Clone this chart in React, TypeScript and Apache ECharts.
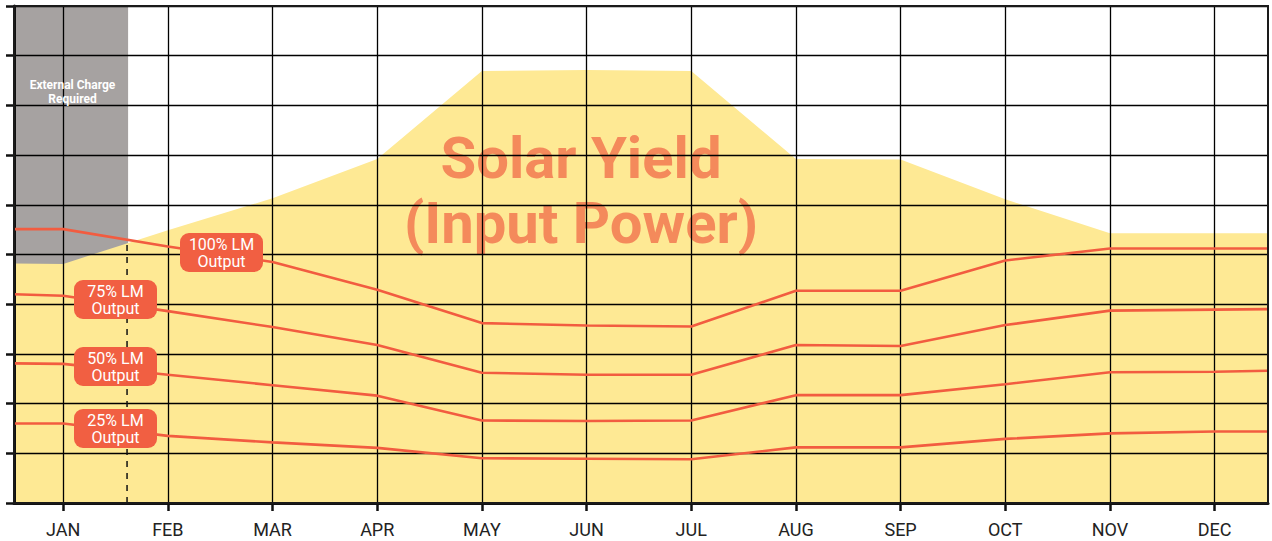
import React, { useEffect, useRef } from "react";
import * as echarts from "echarts";

// ---- Data ----
const MONTHS = ["JAN", "FEB", "MAR", "APR", "MAY", "JUN", "JUL", "AUG", "SEP", "OCT", "NOV", "DEC"];
const X_MIN = -0.47;
const X_MAX = 11.51;

// Solar yield (input power), % of axis
const solarYield = [48.1, 54.9, 61.3, 69.2, 86.9, 87.1, 86.9, 69.2, 69.1, 61.1, 54.3, 54.3];
const solarEdges = [48.2, 54.3];

// LM output lines
const lm100 = [55.1, 51.6, 48.5, 42.9, 36.2, 35.7, 35.5, 42.7, 42.7, 48.8, 51.2, 51.2];
const lm100Edges = [55.1, 51.2];
const lm75 = [41.7, 38.6, 35.4, 31.8, 26.2, 25.8, 25.8, 31.8, 31.6, 35.8, 38.7, 38.9];
const lm75Edges = [42.0, 39.0];
const lm50 = [28.0, 25.8, 23.7, 21.6, 16.6, 16.5, 16.6, 21.7, 21.7, 23.9, 26.3, 26.4];
const lm50Edges = [28.1, 26.6];
const lm25 = [16.0, 13.5, 12.2, 11.1, 9.0, 8.9, 8.8, 11.2, 11.2, 12.9, 14.0, 14.4];
const lm25Edges = [16.0, 14.4];

// External charge region / cutoff
const externalChargeEnd = 0.62;
const cutoffX = 0.61;
const cutoffTop = 52.3;

// ---- Styling / layout ----
const YELLOW = "#fee994";
const GRAY = "#a6a2a1";
const RED = "#f25c40";
const BOX = "#f15f42";
const SOLAR_TEXT = "#f48a5b";

const LABEL_BOXES = [
  { lines: ["100% LM", "Output"], x: 180, y: 233 },
  { lines: ["75% LM", "Output"], x: 74, y: 280 },
  { lines: ["50% LM", "Output"], x: 74, y: 347 },
  { lines: ["25% LM", "Output"], x: 74, y: 409 },
];

function withEdges(values: number[], edges: number[]) {
  return [[X_MIN, edges[0]], ...values.map((v, i) => [i, v]), [X_MAX, edges[1]]];
}

export default function App() {
  const ref = useRef<HTMLDivElement>(null);

  useEffect(() => {
    if (!ref.current) return;
    const chart = echarts.init(ref.current, undefined, { renderer: "svg" });

    const lineSeries = (name: string, vals: number[], edges: number[]) => ({
      name,
      type: "line",
      data: withEdges(vals, edges),
      symbol: "none",
      showSymbol: false,
      silent: true,
      z: 5,
      lineStyle: { color: RED, width: 2.6 },
    });

    const graphics: any[] = [
      {
        type: "text",
        z: 3,
        style: {
          text: "Solar Yield",
          x: 581,
          y: 158,
          align: "center",
          verticalAlign: "middle",
          fill: SOLAR_TEXT,
          font: "bold 58px Roboto",
        },
      },
      {
        type: "text",
        z: 3,
        style: {
          text: "(Input Power)",
          x: 581,
          y: 223,
          align: "center",
          verticalAlign: "middle",
          fill: SOLAR_TEXT,
          font: "bold 58px Roboto",
        },
      },
      {
        type: "text",
        z: 7,
        style: {
          text: "External Charge",
          x: 72.5,
          y: 85,
          align: "center",
          verticalAlign: "middle",
          fill: "#ffffff",
          font: "bold 12px Roboto",
        },
      },
      {
        type: "text",
        z: 7,
        style: {
          text: "Required",
          x: 72.5,
          y: 98.5,
          align: "center",
          verticalAlign: "middle",
          fill: "#ffffff",
          font: "bold 12px Roboto",
        },
      },
    ];

    LABEL_BOXES.forEach((b) => {
      graphics.push({
        type: "rect",
        z: 8,
        shape: { x: b.x, y: b.y, width: 83, height: 39, r: 9 },
        style: { fill: BOX },
      });
      b.lines.forEach((t, i) => {
        graphics.push({
          type: "text",
          z: 9,
          style: {
            text: t,
            x: b.x + 41.5,
            y: b.y + 11 + i * 17.6,
            align: "center",
            verticalAlign: "middle",
            fill: "#ffffff",
            font: "16px Roboto",
          },
        });
      });
    });

    chart.setOption({
      animation: false,
      grid: {
        left: 14,
        right: 4,
        top: 6,
        bottom: 38,
        show: true,
        z: 10,
        borderColor: "#1a1a1a",
        borderWidth: 2,
        backgroundColor: "transparent",
      },
      xAxis: {
        type: "value",
        min: X_MIN,
        max: X_MAX,
        z: 4,
        axisLine: { show: true, onZero: false, lineStyle: { color: "#111", width: 3 } },
        axisTick: {
          show: true,
          customValues: MONTHS.map((_, i) => i),
          length: 8,
          lineStyle: { color: "#111", width: 2.5 },
        },
        axisLabel: {
          customValues: MONTHS.map((_, i) => i),
          formatter: (v: number) => MONTHS[Math.round(v)] ?? "",
          color: "#222",
          fontFamily: "Roboto",
          fontSize: 18,
          margin: 17,
        },
        splitLine: { show: true, lineStyle: { color: "#000", width: 1.3 } },
      },
      yAxis: {
        type: "value",
        min: 0,
        max: 100,
        interval: 10,
        z: 4,
        axisLine: { show: true, onZero: false, lineStyle: { color: "#111", width: 3 } },
        axisTick: { show: true, length: 8, lineStyle: { color: "#111", width: 2.5 } },
        axisLabel: { show: false },
        splitLine: { show: true, lineStyle: { color: "#000", width: 1.3 } },
      },
      series: [
        {
          name: "External Charge Required",
          type: "line",
          data: [
            [X_MIN, 100],
            [externalChargeEnd, 100],
          ],
          symbol: "none",
          silent: true,
          z: 1,
          lineStyle: { width: 0 },
          areaStyle: { color: GRAY, opacity: 1 },
        },
        {
          name: "Solar Yield",
          type: "line",
          data: withEdges(solarYield, solarEdges),
          symbol: "none",
          silent: true,
          z: 2,
          lineStyle: { width: 0 },
          areaStyle: { color: YELLOW, opacity: 1 },
        },
        {
          name: "Cutoff",
          type: "line",
          data: [
            [cutoffX, 0],
            [cutoffX, cutoffTop],
          ],
          symbol: "none",
          silent: true,
          z: 5,
          lineStyle: { color: "#111", width: 1.5, type: [6, 6] },
        },
        lineSeries("100% LM Output", lm100, lm100Edges),
        lineSeries("75% LM Output", lm75, lm75Edges),
        lineSeries("50% LM Output", lm50, lm50Edges),
        lineSeries("25% LM Output", lm25, lm25Edges),
      ],
      graphic: { elements: graphics },
    });

    return () => chart.dispose();
  }, []);

  return (
    <div
      ref={ref}
      style={{ position: "absolute", left: 0, top: 0, width: 1272, height: 541, background: "#fff" }}
    />
  );
}
